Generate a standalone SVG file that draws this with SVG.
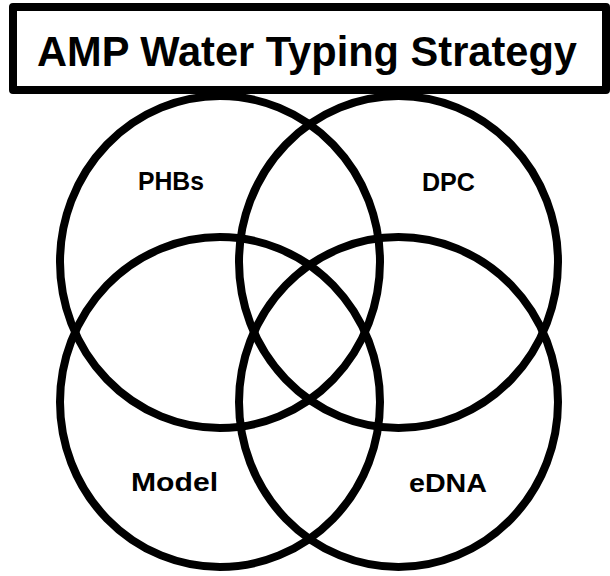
<svg xmlns="http://www.w3.org/2000/svg" width="610" height="576" viewBox="0 0 610 576">
  <style>
    .ring { fill: none; stroke: #000; stroke-width: 8; }
    .box { fill: #fff; stroke: #000; stroke-width: 8; stroke-linejoin: round; }
    .title { font-family: "Liberation Sans", Arial, sans-serif; font-weight: bold; font-size: 43px; fill: #000; }
    .label { font-family: "Liberation Sans", Arial, sans-serif; font-weight: bold; font-size: 26px; fill: #000; }
  </style>
  <rect width="610" height="576" fill="#fff"/>
  <g id="title">
    <rect class="box" x="13" y="7" width="593" height="83"/>
    <text class="title" x="37" y="66" textLength="540" lengthAdjust="spacingAndGlyphs">AMP Water Typing Strategy</text>
  </g>
  <g id="phbs">
    <ellipse class="ring" cx="220" cy="262" rx="160" ry="166"/>
    <text class="label" x="138" y="190" textLength="66" lengthAdjust="spacingAndGlyphs">PHBs</text>
  </g>
  <g id="dpc">
    <ellipse class="ring" cx="398.5" cy="262" rx="159.5" ry="166"/>
    <text class="label" x="422" y="191" textLength="53" lengthAdjust="spacingAndGlyphs">DPC</text>
  </g>
  <g id="model">
    <ellipse class="ring" cx="220" cy="402" rx="160" ry="165"/>
    <text class="label" x="131" y="491" textLength="87" lengthAdjust="spacingAndGlyphs">Model</text>
  </g>
  <g id="edna">
    <ellipse class="ring" cx="398.5" cy="402" rx="159.5" ry="165"/>
    <text class="label" x="409" y="492" textLength="78" lengthAdjust="spacingAndGlyphs">eDNA</text>
  </g>
</svg>
